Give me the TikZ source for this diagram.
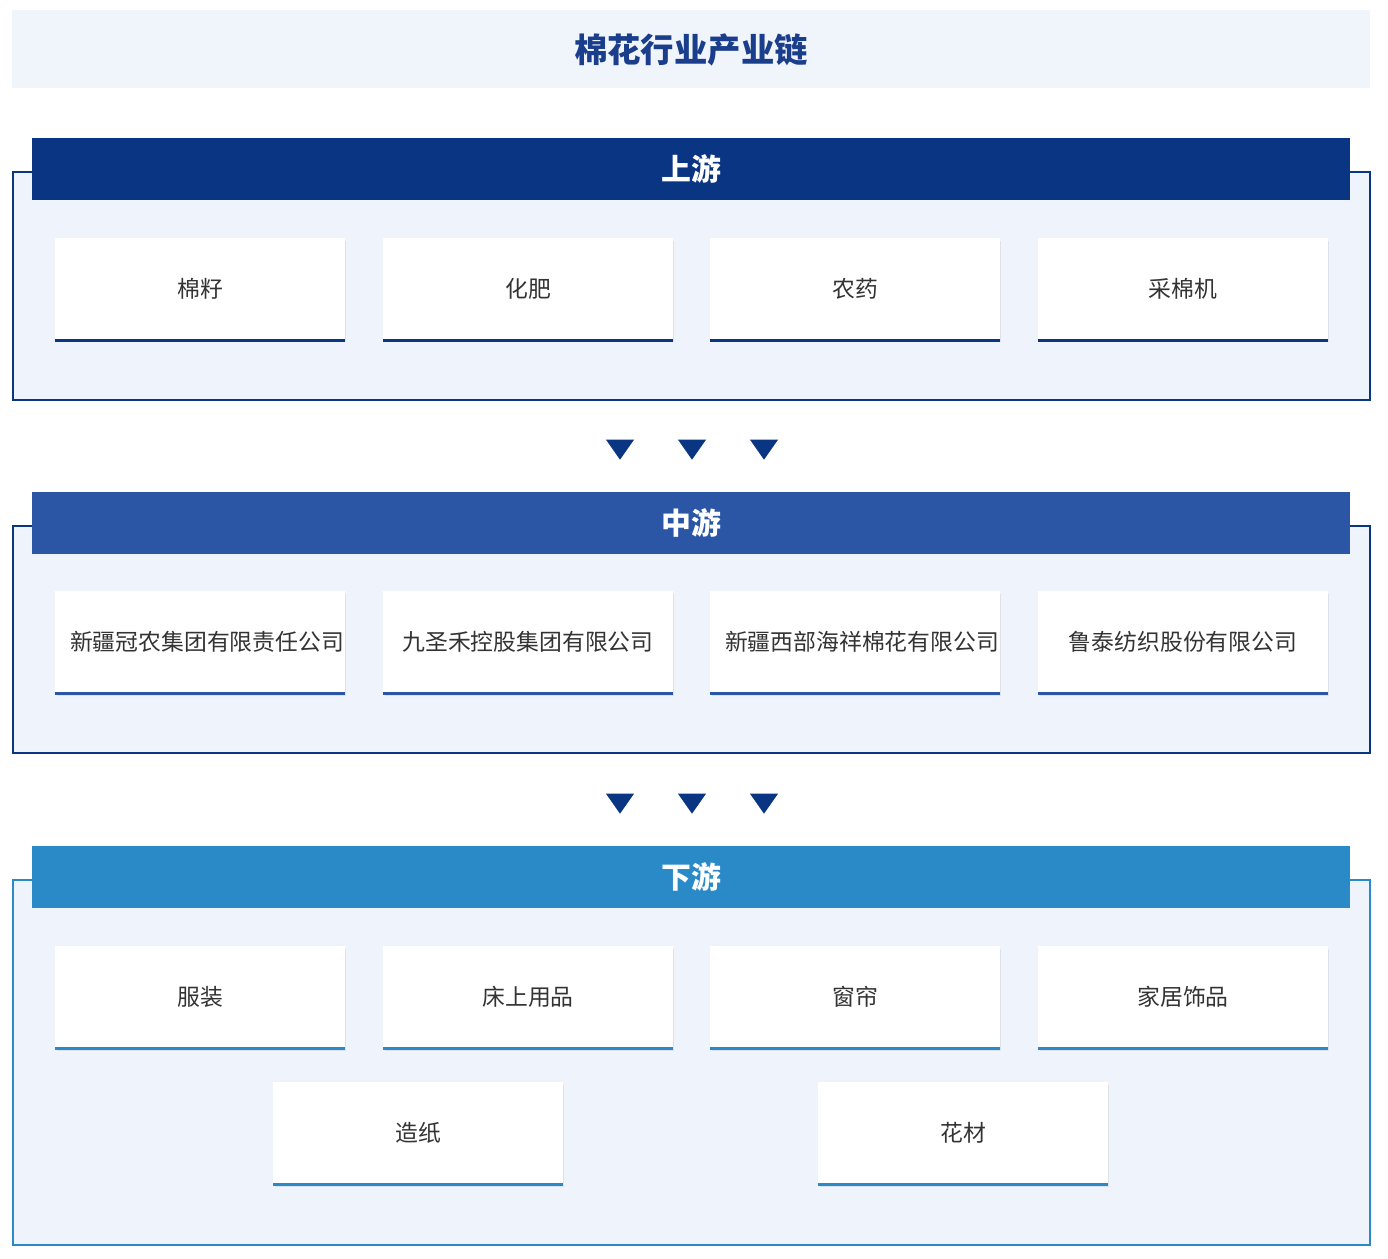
\documentclass[tikz,border=0pt]{standalone}
\usepackage{fontspec}
\setmainfont{Noto Sans CJK SC}
\usetikzlibrary{positioning,shapes.geometric,shadows}
\definecolor{titlebg}{HTML}{F0F4FB}
\definecolor{titleblue}{HTML}{1A3E8C}
\definecolor{panelbg}{HTML}{EEF3FC}
\definecolor{upblue}{HTML}{0A3582}
\definecolor{midblue}{HTML}{2A56A5}
\definecolor{downblue}{HTML}{2A8AC8}
\tikzset{
	header/.style={fill=#1, text=white, font=\fontsize{17}{20}\selectfont\bfseries, minimum width=26.38cm, minimum height=1.24cm, inner sep=0pt},
	panel/.style={draw=#1, line width=1.2pt, fill=panelbg},
	itembox/.style={fill=white, draw=none, minimum width=5.8cm, minimum height=2.04cm, inner sep=2pt, text width=5.2cm, align=center,
		font=\fontsize{13}{24}\selectfont, text=black!80, drop shadow={shadow xshift=0.03cm, shadow yshift=-0.05cm, opacity=0.15}},
	downtri/.style={isosceles triangle, shape border rotate=-90, isosceles triangle apex angle=70, fill=upblue, inner sep=0pt, minimum width=0.5cm, minimum height=0.4cm}
}
\begin{document}
\begin{tikzpicture}[x=0.02cm, y=-0.02cm]
	\useasboundingbox[fill=white] (0, 0) rectangle (1388, 1258);
	% title
	\fill[titlebg] (12, 10) rectangle (1370, 88);
	\node[text=titleblue, font=\fontsize{19}{22}\selectfont\bfseries] (title) at (691, 50) {棉花行业产业链};
	% panels
	\draw[panel=upblue] (13, 172) rectangle (1370, 400);
	\draw[panel=upblue] (13, 526) rectangle (1370, 753);
	\draw[panel=downblue] (13, 880) rectangle (1370, 1245);
	\node[header=upblue] (up) at (691, 169) {上游};
	\node[header=midblue] (mid) at (691, 523) {中游};
	\node[header=downblue] (down) at (691, 877) {下游};
	% upstream
	\foreach \x/\t [count=\i] in {200/棉籽, 528/化肥, 855/农药, 1183/采棉机} {
		\node[itembox] (u\i) at (\x, 289) {\t};
		\draw[upblue, line width=1.6pt] (u\i.south west) -- (u\i.south east);
	}
	% midstream
	\foreach \x/\t [count=\i] in {200/新疆冠农集团有限责任公司, 528/九圣禾控股集团有限公司, 855/新疆西部海祥棉花有限公司, 1183/鲁泰纺织股份有限公司} {
		\node[itembox] (m\i) at (\x, 642) {\t};
		\draw[midblue, line width=1.6pt] (m\i.south west) -- (m\i.south east);
	}
	% downstream
	\foreach \x/\y/\t [count=\i] in {200/997/服装, 528/997/床上用品, 855/997/窗帘, 1183/997/家居饰品, 418/1133/造纸, 963/1133/花材} {
		\node[itembox] (d\i) at (\x, \y) {\t};
		\draw[downblue, line width=1.6pt] (d\i.south west) -- (d\i.south east);
	}
	% arrows
	\foreach \x [count=\i] in {620, 692, 764} {
		\node[downtri] (ta\i) at (\x, 447) {};
		\node[downtri] (tb\i) at (\x, 801) {};
	}
\end{tikzpicture}
\end{document}
